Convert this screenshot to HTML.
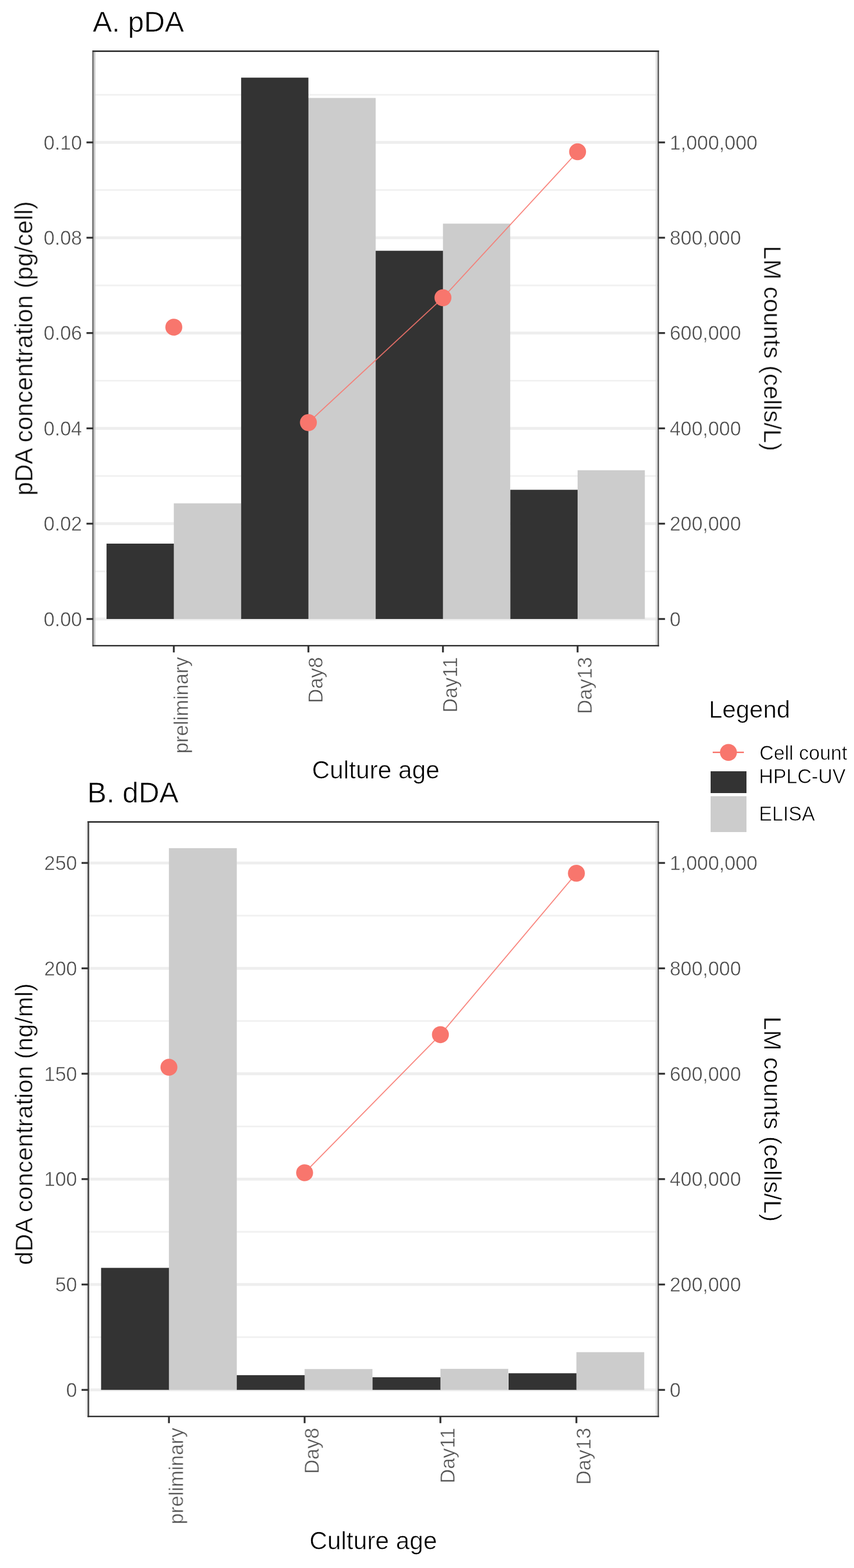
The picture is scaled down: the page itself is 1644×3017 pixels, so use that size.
<!DOCTYPE html>
<html lang="en">
<head>
<meta charset="utf-8">
<title>pDA and dDA concentration by culture age</title>
<style>
html, body { margin: 0; padding: 0; background: #FFFFFF; }
body { width: 1644px; height: 3017px; overflow: hidden; }
svg { display: block; }
</style>
</head>
<body>
<svg width="1644" height="3017" viewBox="0 0 1644 3017" font-family="'Liberation Sans', Arial, Helvetica, sans-serif">
<defs><filter id="soft" x="0" y="0" width="100%" height="100%" color-interpolation-filters="sRGB"><feGaussianBlur stdDeviation="0.5"/></filter></defs>
<rect x="0" y="0" width="1644" height="3017" fill="#FFFFFF"/>
<g filter="url(#soft)">
<line x1="179.5" y1="1099.3" x2="1267.2" y2="1099.3" stroke="#F1F1F1" stroke-width="3.2"/>
<line x1="179.5" y1="915.9" x2="1267.2" y2="915.9" stroke="#F1F1F1" stroke-width="3.2"/>
<line x1="179.5" y1="732.5" x2="1267.2" y2="732.5" stroke="#F1F1F1" stroke-width="3.2"/>
<line x1="179.5" y1="549.1" x2="1267.2" y2="549.1" stroke="#F1F1F1" stroke-width="3.2"/>
<line x1="179.5" y1="365.7" x2="1267.2" y2="365.7" stroke="#F1F1F1" stroke-width="3.2"/>
<line x1="179.5" y1="182.3" x2="1267.2" y2="182.3" stroke="#F1F1F1" stroke-width="3.2"/>
<line x1="179.5" y1="1191" x2="1267.2" y2="1191" stroke="#EEEEEE" stroke-width="5.5"/>
<line x1="179.5" y1="1007.6" x2="1267.2" y2="1007.6" stroke="#EEEEEE" stroke-width="5.5"/>
<line x1="179.5" y1="824.2" x2="1267.2" y2="824.2" stroke="#EEEEEE" stroke-width="5.5"/>
<line x1="179.5" y1="640.8" x2="1267.2" y2="640.8" stroke="#EEEEEE" stroke-width="5.5"/>
<line x1="179.5" y1="457.4" x2="1267.2" y2="457.4" stroke="#EEEEEE" stroke-width="5.5"/>
<line x1="179.5" y1="274" x2="1267.2" y2="274" stroke="#EEEEEE" stroke-width="5.5"/>
<rect x="205.1" y="1046" width="130.3" height="145" fill="#333333"/>
<rect x="334.6" y="968.5" width="129.5" height="222.5" fill="#CCCCCC"/>
<rect x="592.9" y="188.5" width="130.3" height="1002.5" fill="#CCCCCC"/>
<rect x="464.2" y="149.4" width="129.5" height="1041.6" fill="#333333"/>
<rect x="723.2" y="482.5" width="130.3" height="708.5" fill="#333333"/>
<rect x="852.7" y="430.3" width="129.5" height="760.7" fill="#CCCCCC"/>
<rect x="982.4" y="942.4" width="130.3" height="248.6" fill="#333333"/>
<rect x="1111.9" y="904.8" width="129.5" height="286.2" fill="#CCCCCC"/>
<polyline points="593.7,813.1 852.7,572.85 1111.9,291.97" fill="none" stroke="#F8766D" stroke-width="2.1" stroke-opacity="0.85"/>
<circle cx="334.6" cy="629.52" r="16.3" fill="#F8766D"/>
<circle cx="593.7" cy="813.1" r="16.3" fill="#F8766D"/>
<circle cx="852.7" cy="572.85" r="16.3" fill="#F8766D"/>
<circle cx="1111.9" cy="291.97" r="16.3" fill="#F8766D"/>
<line x1="181.9" y1="98.5" x2="181.9" y2="1242.3" stroke="#C8C8C8" stroke-width="3.4"/>
<line x1="178.9" y1="97.1" x2="178.9" y2="1243.7" stroke="#666666" stroke-width="2.6"/>
<line x1="1263.6" y1="98.5" x2="1263.6" y2="1242.3" stroke="#DCDCDC" stroke-width="2.8"/>
<line x1="1267.2" y1="97.1" x2="1267.2" y2="1243.7" stroke="#555555" stroke-width="2.8"/>
<line x1="178.1" y1="98.5" x2="1268.6" y2="98.5" stroke="#333333" stroke-width="2.8"/>
<line x1="178.1" y1="1242.3" x2="1268.6" y2="1242.3" stroke="#333333" stroke-width="2.8"/>
<line x1="166.5" y1="1191" x2="179.5" y2="1191" stroke="#333333" stroke-width="3.6"/>
<text x="158" y="1204.6" text-anchor="end" font-size="38" fill="#4D4D4D" stroke="#FFFFFF" stroke-width="0.6">0.00</text>
<line x1="166.5" y1="1007.6" x2="179.5" y2="1007.6" stroke="#333333" stroke-width="3.6"/>
<text x="158" y="1021.2" text-anchor="end" font-size="38" fill="#4D4D4D" stroke="#FFFFFF" stroke-width="0.6">0.02</text>
<line x1="166.5" y1="824.2" x2="179.5" y2="824.2" stroke="#333333" stroke-width="3.6"/>
<text x="158" y="837.8" text-anchor="end" font-size="38" fill="#4D4D4D" stroke="#FFFFFF" stroke-width="0.6">0.04</text>
<line x1="166.5" y1="640.8" x2="179.5" y2="640.8" stroke="#333333" stroke-width="3.6"/>
<text x="158" y="654.4" text-anchor="end" font-size="38" fill="#4D4D4D" stroke="#FFFFFF" stroke-width="0.6">0.06</text>
<line x1="166.5" y1="457.4" x2="179.5" y2="457.4" stroke="#333333" stroke-width="3.6"/>
<text x="158" y="471" text-anchor="end" font-size="38" fill="#4D4D4D" stroke="#FFFFFF" stroke-width="0.6">0.08</text>
<line x1="166.5" y1="274" x2="179.5" y2="274" stroke="#333333" stroke-width="3.6"/>
<text x="158" y="287.6" text-anchor="end" font-size="38" fill="#4D4D4D" stroke="#FFFFFF" stroke-width="0.6">0.10</text>
<line x1="1267.2" y1="1191" x2="1280.2" y2="1191" stroke="#333333" stroke-width="3.6"/>
<text x="1289.2" y="1204.6" font-size="38" fill="#4D4D4D" stroke="#FFFFFF" stroke-width="0.6">0</text>
<line x1="1267.2" y1="1007.6" x2="1280.2" y2="1007.6" stroke="#333333" stroke-width="3.6"/>
<text x="1289.2" y="1021.2" font-size="38" fill="#4D4D4D" stroke="#FFFFFF" stroke-width="0.6">200,000</text>
<line x1="1267.2" y1="824.2" x2="1280.2" y2="824.2" stroke="#333333" stroke-width="3.6"/>
<text x="1289.2" y="837.8" font-size="38" fill="#4D4D4D" stroke="#FFFFFF" stroke-width="0.6">400,000</text>
<line x1="1267.2" y1="640.8" x2="1280.2" y2="640.8" stroke="#333333" stroke-width="3.6"/>
<text x="1289.2" y="654.4" font-size="38" fill="#4D4D4D" stroke="#FFFFFF" stroke-width="0.6">600,000</text>
<line x1="1267.2" y1="457.4" x2="1280.2" y2="457.4" stroke="#333333" stroke-width="3.6"/>
<text x="1289.2" y="471" font-size="38" fill="#4D4D4D" stroke="#FFFFFF" stroke-width="0.6">800,000</text>
<line x1="1267.2" y1="274" x2="1280.2" y2="274" stroke="#333333" stroke-width="3.6"/>
<text x="1289.2" y="287.6" font-size="38" fill="#4D4D4D" stroke="#FFFFFF" stroke-width="0.6">1,000,000</text>
<line x1="334.6" y1="1242.3" x2="334.6" y2="1255.3" stroke="#333333" stroke-width="3.6"/>
<text transform="translate(361.9,1264.1) rotate(-90)" text-anchor="end" font-size="38" fill="#4D4D4D" stroke="#FFFFFF" stroke-width="0.6">preliminary</text>
<line x1="593.7" y1="1242.3" x2="593.7" y2="1255.3" stroke="#333333" stroke-width="3.6"/>
<text transform="translate(621,1264.1) rotate(-90)" text-anchor="end" font-size="38" fill="#4D4D4D" stroke="#FFFFFF" stroke-width="0.6">Day8</text>
<line x1="852.7" y1="1242.3" x2="852.7" y2="1255.3" stroke="#333333" stroke-width="3.6"/>
<text transform="translate(880,1264.1) rotate(-90)" text-anchor="end" font-size="38" fill="#4D4D4D" stroke="#FFFFFF" stroke-width="0.6">Day11</text>
<line x1="1111.9" y1="1242.3" x2="1111.9" y2="1255.3" stroke="#333333" stroke-width="3.6"/>
<text transform="translate(1139.2,1264.1) rotate(-90)" text-anchor="end" font-size="38" fill="#4D4D4D" stroke="#FFFFFF" stroke-width="0.6">Day13</text>
<text x="178.5" y="61.3" font-size="55.5" fill="#000" stroke="#FFFFFF" stroke-width="0.7">A. pDA</text>
<text transform="translate(62.4,670.3) rotate(-90)" text-anchor="middle" font-size="47.2" fill="#000" stroke="#FFFFFF" stroke-width="0.7">pDA concentration (pg/cell)</text>
<text transform="translate(1470.8,670.4) rotate(90)" text-anchor="middle" font-size="47.1" fill="#000" stroke="#FFFFFF" stroke-width="0.7">LM counts (cells/L)</text>
<text x="723.35" y="1497.7" text-anchor="middle" font-size="47.5" fill="#000" stroke="#FFFFFF" stroke-width="0.7">Culture age</text>
<line x1="170" y1="2572.91" x2="1267.2" y2="2572.91" stroke="#F1F1F1" stroke-width="3.2"/>
<line x1="170" y1="2370.13" x2="1267.2" y2="2370.13" stroke="#F1F1F1" stroke-width="3.2"/>
<line x1="170" y1="2167.35" x2="1267.2" y2="2167.35" stroke="#F1F1F1" stroke-width="3.2"/>
<line x1="170" y1="1964.57" x2="1267.2" y2="1964.57" stroke="#F1F1F1" stroke-width="3.2"/>
<line x1="170" y1="1761.79" x2="1267.2" y2="1761.79" stroke="#F1F1F1" stroke-width="3.2"/>
<line x1="170" y1="2674.3" x2="1267.2" y2="2674.3" stroke="#EEEEEE" stroke-width="5.5"/>
<line x1="170" y1="2471.52" x2="1267.2" y2="2471.52" stroke="#EEEEEE" stroke-width="5.5"/>
<line x1="170" y1="2268.74" x2="1267.2" y2="2268.74" stroke="#EEEEEE" stroke-width="5.5"/>
<line x1="170" y1="2065.96" x2="1267.2" y2="2065.96" stroke="#EEEEEE" stroke-width="5.5"/>
<line x1="170" y1="1863.18" x2="1267.2" y2="1863.18" stroke="#EEEEEE" stroke-width="5.5"/>
<line x1="170" y1="1660.4" x2="1267.2" y2="1660.4" stroke="#EEEEEE" stroke-width="5.5"/>
<rect x="194.6" y="2439.5" width="131.4" height="234.8" fill="#333333"/>
<rect x="325.2" y="1632" width="130.6" height="1042.3" fill="#CCCCCC"/>
<rect x="455.8" y="2646" width="131.4" height="28.3" fill="#333333"/>
<rect x="586.4" y="2634.2" width="130.6" height="40.1" fill="#CCCCCC"/>
<rect x="717.2" y="2650" width="131.4" height="24.3" fill="#333333"/>
<rect x="847.8" y="2633.8" width="130.6" height="40.5" fill="#CCCCCC"/>
<rect x="979" y="2642.3" width="131.4" height="32" fill="#333333"/>
<rect x="1109.6" y="2601.7" width="130.6" height="72.6" fill="#CCCCCC"/>
<polyline points="586.4,2256.47 847.8,1990.83 1109.6,1680.27" fill="none" stroke="#F8766D" stroke-width="2.1" stroke-opacity="0.85"/>
<circle cx="325.2" cy="2053.49" r="16.3" fill="#F8766D"/>
<circle cx="586.4" cy="2256.47" r="16.3" fill="#F8766D"/>
<circle cx="847.8" cy="1990.83" r="16.3" fill="#F8766D"/>
<circle cx="1109.6" cy="1680.27" r="16.3" fill="#F8766D"/>
<line x1="166.7" y1="1581.5" x2="166.7" y2="2725.3" stroke="#EEEEEE" stroke-width="3.2"/>
<line x1="170.1" y1="1580.1" x2="170.1" y2="2726.7" stroke="#474747" stroke-width="3.2"/>
<line x1="1263.6" y1="1581.5" x2="1263.6" y2="2725.3" stroke="#DCDCDC" stroke-width="2.8"/>
<line x1="1267.2" y1="1580.1" x2="1267.2" y2="2726.7" stroke="#5A5A5A" stroke-width="2.8"/>
<line x1="168.6" y1="1581.5" x2="1268.6" y2="1581.5" stroke="#333333" stroke-width="2.8"/>
<line x1="168.6" y1="2725.3" x2="1268.6" y2="2725.3" stroke="#333333" stroke-width="2.8"/>
<line x1="157" y1="2674.3" x2="170" y2="2674.3" stroke="#333333" stroke-width="3.6"/>
<text x="148.5" y="2687.9" text-anchor="end" font-size="38" fill="#4D4D4D" stroke="#FFFFFF" stroke-width="0.6">0</text>
<line x1="157" y1="2471.52" x2="170" y2="2471.52" stroke="#333333" stroke-width="3.6"/>
<text x="148.5" y="2485.12" text-anchor="end" font-size="38" fill="#4D4D4D" stroke="#FFFFFF" stroke-width="0.6">50</text>
<line x1="157" y1="2268.74" x2="170" y2="2268.74" stroke="#333333" stroke-width="3.6"/>
<text x="148.5" y="2282.34" text-anchor="end" font-size="38" fill="#4D4D4D" stroke="#FFFFFF" stroke-width="0.6">100</text>
<line x1="157" y1="2065.96" x2="170" y2="2065.96" stroke="#333333" stroke-width="3.6"/>
<text x="148.5" y="2079.56" text-anchor="end" font-size="38" fill="#4D4D4D" stroke="#FFFFFF" stroke-width="0.6">150</text>
<line x1="157" y1="1863.18" x2="170" y2="1863.18" stroke="#333333" stroke-width="3.6"/>
<text x="148.5" y="1876.78" text-anchor="end" font-size="38" fill="#4D4D4D" stroke="#FFFFFF" stroke-width="0.6">200</text>
<line x1="157" y1="1660.4" x2="170" y2="1660.4" stroke="#333333" stroke-width="3.6"/>
<text x="148.5" y="1674" text-anchor="end" font-size="38" fill="#4D4D4D" stroke="#FFFFFF" stroke-width="0.6">250</text>
<line x1="1267.2" y1="2674.3" x2="1280.2" y2="2674.3" stroke="#333333" stroke-width="3.6"/>
<text x="1289.2" y="2687.9" font-size="38" fill="#4D4D4D" stroke="#FFFFFF" stroke-width="0.6">0</text>
<line x1="1267.2" y1="2471.52" x2="1280.2" y2="2471.52" stroke="#333333" stroke-width="3.6"/>
<text x="1289.2" y="2485.12" font-size="38" fill="#4D4D4D" stroke="#FFFFFF" stroke-width="0.6">200,000</text>
<line x1="1267.2" y1="2268.74" x2="1280.2" y2="2268.74" stroke="#333333" stroke-width="3.6"/>
<text x="1289.2" y="2282.34" font-size="38" fill="#4D4D4D" stroke="#FFFFFF" stroke-width="0.6">400,000</text>
<line x1="1267.2" y1="2065.96" x2="1280.2" y2="2065.96" stroke="#333333" stroke-width="3.6"/>
<text x="1289.2" y="2079.56" font-size="38" fill="#4D4D4D" stroke="#FFFFFF" stroke-width="0.6">600,000</text>
<line x1="1267.2" y1="1863.18" x2="1280.2" y2="1863.18" stroke="#333333" stroke-width="3.6"/>
<text x="1289.2" y="1876.78" font-size="38" fill="#4D4D4D" stroke="#FFFFFF" stroke-width="0.6">800,000</text>
<line x1="1267.2" y1="1660.4" x2="1280.2" y2="1660.4" stroke="#333333" stroke-width="3.6"/>
<text x="1289.2" y="1674" font-size="38" fill="#4D4D4D" stroke="#FFFFFF" stroke-width="0.6">1,000,000</text>
<line x1="325.2" y1="2725.3" x2="325.2" y2="2738.3" stroke="#333333" stroke-width="3.6"/>
<text transform="translate(352.5,2747.1) rotate(-90)" text-anchor="end" font-size="38" fill="#4D4D4D" stroke="#FFFFFF" stroke-width="0.6">preliminary</text>
<line x1="586.4" y1="2725.3" x2="586.4" y2="2738.3" stroke="#333333" stroke-width="3.6"/>
<text transform="translate(613.7,2747.1) rotate(-90)" text-anchor="end" font-size="38" fill="#4D4D4D" stroke="#FFFFFF" stroke-width="0.6">Day8</text>
<line x1="847.8" y1="2725.3" x2="847.8" y2="2738.3" stroke="#333333" stroke-width="3.6"/>
<text transform="translate(875.1,2747.1) rotate(-90)" text-anchor="end" font-size="38" fill="#4D4D4D" stroke="#FFFFFF" stroke-width="0.6">Day11</text>
<line x1="1109.6" y1="2725.3" x2="1109.6" y2="2738.3" stroke="#333333" stroke-width="3.6"/>
<text transform="translate(1136.9,2747.1) rotate(-90)" text-anchor="end" font-size="38" fill="#4D4D4D" stroke="#FFFFFF" stroke-width="0.6">Day13</text>
<text x="168" y="1543.6" font-size="55.5" fill="#000" stroke="#FFFFFF" stroke-width="0.7">B. dDA</text>
<text transform="translate(62.4,2163) rotate(-90)" text-anchor="middle" font-size="46.9" fill="#000" stroke="#FFFFFF" stroke-width="0.7">dDA concentration (ng/ml)</text>
<text transform="translate(1470.8,2153.4) rotate(90)" text-anchor="middle" font-size="47.1" fill="#000" stroke="#FFFFFF" stroke-width="0.7">LM counts (cells/L)</text>
<text x="718.6" y="2980.7" text-anchor="middle" font-size="47.5" fill="#000" stroke="#FFFFFF" stroke-width="0.7">Culture age</text>
<text x="1364.4" y="1381.3" font-size="47" fill="#000" stroke="#FFFFFF" stroke-width="0.7">Legend</text>
<line x1="1372" y1="1447.6" x2="1432" y2="1447.6" stroke="#F8766D" stroke-width="2.6"/>
<circle cx="1402.3" cy="1447.7" r="16.3" fill="#F8766D"/>
<rect x="1368" y="1484" width="69" height="42" fill="#333333"/>
<rect x="1368" y="1532" width="69" height="69" fill="#CCCCCC"/>
<text x="1462" y="1461.5" font-size="38" fill="#000" stroke="#FFFFFF" stroke-width="0.7">Cell count</text>
<text x="1461" y="1506.9" font-size="38" fill="#000" stroke="#FFFFFF" stroke-width="0.7">HPLC-UV</text>
<text x="1461" y="1579.2" font-size="38" fill="#000" stroke="#FFFFFF" stroke-width="0.7">ELISA</text>
</g>
</svg>
</body>
</html>
